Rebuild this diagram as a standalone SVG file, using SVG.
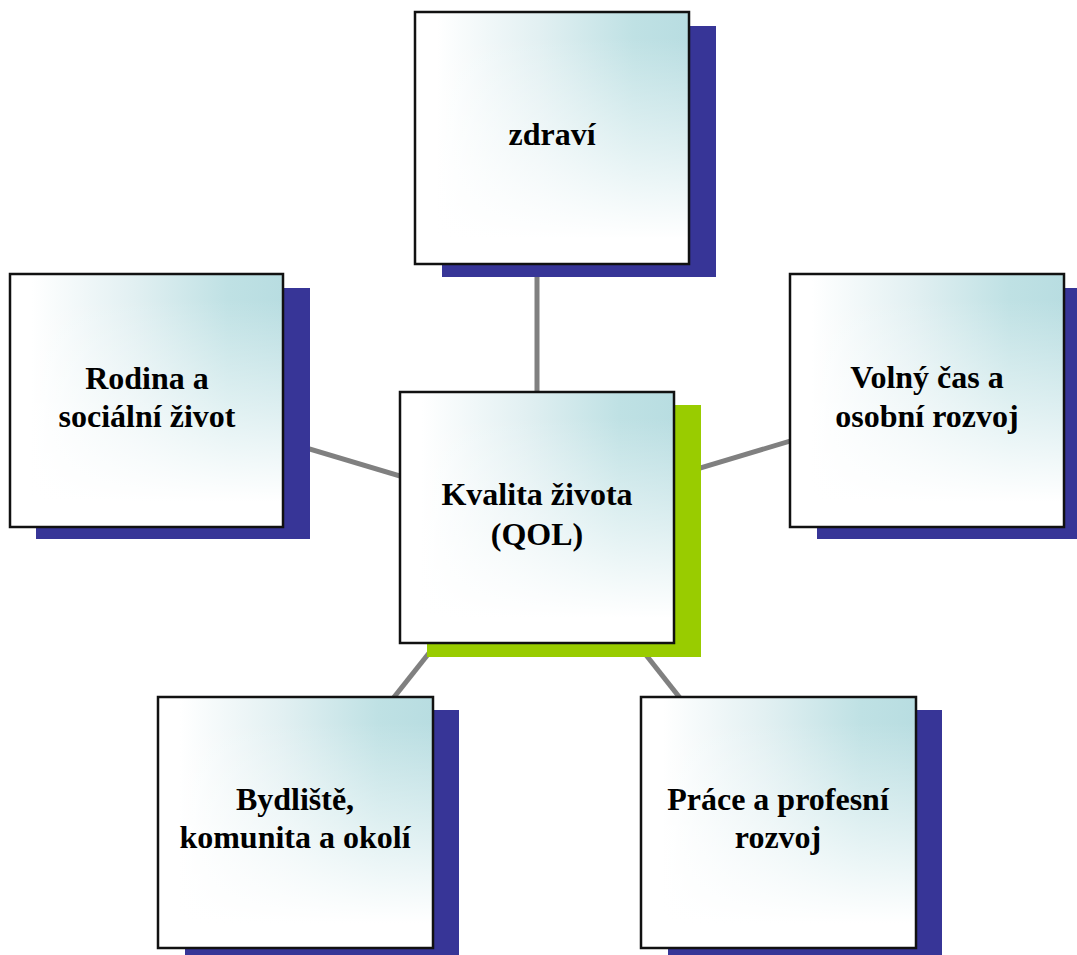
<svg xmlns="http://www.w3.org/2000/svg" width="1077" height="955" viewBox="0 0 1077 955">
<style>
.box{fill:url(#gh)}
.ov{fill:url(#gv);stroke:#111;stroke-width:2.5}
.sh{fill:#373597}
.shc{fill:#99cc00}
.lbl{font-family:'Liberation Serif','Times New Roman',Times,serif;font-weight:bold;font-size:32px;fill:#000;text-anchor:middle}
.con{stroke:#808080;stroke-width:5;fill:none}
</style>
<defs>
<linearGradient id="gh" x1="0" y1="0" x2="1" y2="0">
<stop offset="0.08" stop-color="#ffffff"/>
<stop offset="0.45" stop-color="#e2f0f2"/>
<stop offset="0.8" stop-color="#bfe1e4"/>
<stop offset="1" stop-color="#b8dde1"/>
</linearGradient>
<linearGradient id="gv" x1="0" y1="0" x2="0" y2="1">
<stop offset="0.1" stop-color="#ffffff" stop-opacity="0"/>
<stop offset="0.55" stop-color="#ffffff" stop-opacity="0.55"/>
<stop offset="0.9" stop-color="#ffffff" stop-opacity="1"/>
</linearGradient>
</defs>
<rect width="1077" height="955" fill="#ffffff"/>
<g id="connectors">
<line class="con" x1="537" y1="138" x2="537" y2="517"/>
<line class="con" x1="146" y1="400" x2="537" y2="517"/>
<line class="con" x1="927" y1="400" x2="537" y2="517"/>
<line class="con" x1="295" y1="822" x2="537" y2="517"/>
<line class="con" x1="778" y1="822" x2="537" y2="517"/>
</g>
<g id="node-zdravi">
<rect class="sh" x="442" y="26" width="274" height="251"/>
<rect class="box" x="415" y="12" width="274" height="252"/>
<rect class="ov" x="415" y="12" width="274" height="252"/>
<text class="lbl" x="552" y="145">zdraví</text>
</g>
<g id="node-rodina">
<rect class="sh" x="36" y="288" width="274" height="251"/>
<rect class="box" x="10" y="274" width="273" height="253"/>
<rect class="ov" x="10" y="274" width="273" height="253"/>
<text class="lbl" x="147" y="389">Rodina a</text>
<text class="lbl" x="147" y="427">sociální život</text>
</g>
<g id="node-volny">
<rect class="sh" x="817" y="288" width="274" height="251"/>
<rect class="box" x="790" y="274" width="274" height="253"/>
<rect class="ov" x="790" y="274" width="274" height="253"/>
<text class="lbl" x="927" y="388">Volný čas a</text>
<text class="lbl" x="927" y="427">osobní rozvoj</text>
</g>
<g id="node-bydliste">
<rect class="sh" x="185" y="710" width="274" height="251"/>
<rect class="box" x="158" y="697" width="275" height="251"/>
<rect class="ov" x="158" y="697" width="275" height="251"/>
<text class="lbl" x="295" y="810">Bydliště,</text>
<text class="lbl" x="295" y="848">komunita a okolí</text>
</g>
<g id="node-prace">
<rect class="sh" x="668" y="710" width="274" height="251"/>
<rect class="box" x="641" y="697" width="275" height="251"/>
<rect class="ov" x="641" y="697" width="275" height="251"/>
<text class="lbl" x="778" y="810">Práce a profesní</text>
<text class="lbl" x="778" y="848">rozvoj</text>
</g>
<g id="node-center">
<rect class="shc" x="427" y="405" width="274" height="252"/>
<rect class="box" x="400" y="392" width="274" height="251"/>
<rect class="ov" x="400" y="392" width="274" height="251"/>
<text class="lbl" x="537" y="505">Kvalita života</text>
<text class="lbl" x="537" y="545">(QOL)</text>
</g>
</svg>
